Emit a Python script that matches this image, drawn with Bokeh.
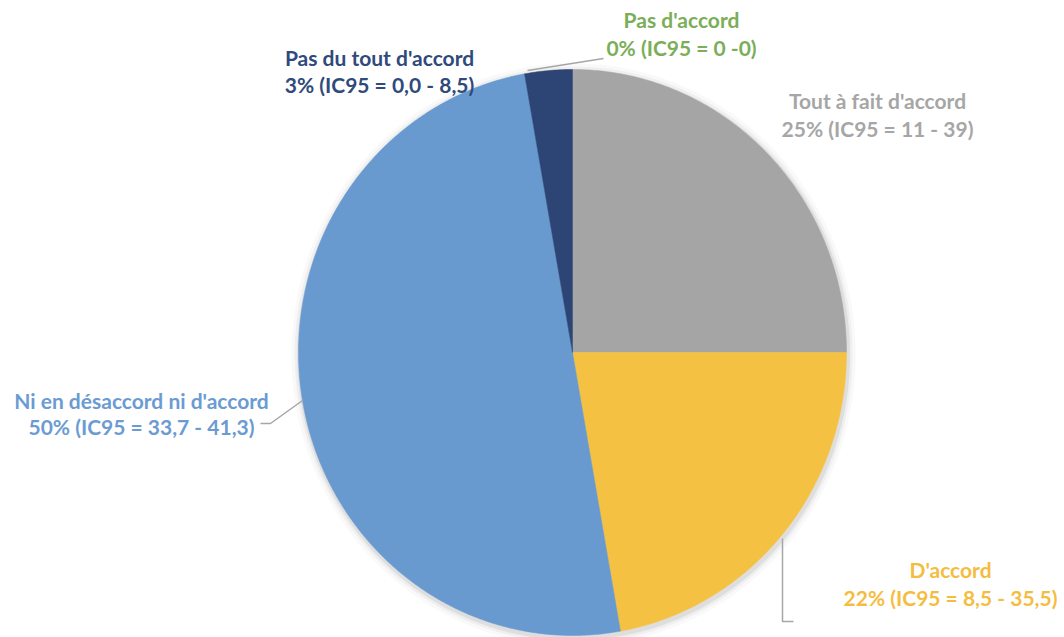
import numpy as np
from bokeh.plotting import figure
from bokeh.models import Range1d
from bokeh.core.properties import value
from bokeh.embed import file_html
from bokeh.resources import INLINE

# ---- data (clockwise from 12 o'clock) ----
categories = ["Tout à fait d'accord", "D'accord", "Ni en désaccord ni d'accord",
              "Pas du tout d'accord", "Pas d'accord"]
percents = [25.0, 22.2, 50.0, 2.8, 0.0]
ic95 = ["11 - 39", "8,5 - 35,5", "33,7 - 41,3", "0,0 - 8,5", "0 -0"]

slice_colors = ["#A5A5A5", "#F5C143", "#689AD0", "#2C4574", "#70AD47"]
text_colors = ["#A6A6A6", "#F5BD3F", "#6B9BD2", "#2F4A7B", "#7AAE58"]

W, H = 1064, 637
CX, CY, RX, RY = 572.0, 352.0, 274.0, 283.0   # page pixel geometry of the pie


def px(X, Y):
    """page pixel -> data units (pie = unit circle)"""
    return (X - CX) / RX, (CY - Y) / RY


x0, y0 = px(0, 0)
x1, y1 = px(W, H)

p = figure(width=W, height=H, output_backend="svg", toolbar_location=None,
           x_range=Range1d(x0, x1), y_range=Range1d(y1, y0),
           min_border=0, outline_line_color=None)
p.axis.visible = False
p.grid.visible = False
p.background_fill_color = "white"
p.border_fill_color = "white"

# soft shadow
t = np.linspace(0, 2 * np.pi, 361)
for k, a in [(1.03, 0.025), (1.018, 0.04), (1.009, 0.07)]:
    p.patch(np.sin(t) * k + 0.004, np.cos(t) * k - 0.008, fill_color="#000000",
            fill_alpha=a, line_color=None)

# slices
total = sum(percents)
start = 0.0
for pct, col in zip(percents, slice_colors):
    frac = pct / total
    if frac > 0:
        th = np.linspace(start, start + frac * 2 * np.pi, max(3, int(frac * 720)))
        xs = np.concatenate([[0.0], np.sin(th), [0.0]])
        ys = np.concatenate([[0.0], np.cos(th), [0.0]])
        p.patch(xs, ys, fill_color=col, line_color=col, line_width=0.5)
    start += frac * 2 * np.pi

# leader lines
leaders = [
    [(527, 70), (603, 58)],                      # Pas d'accord
    [(260, 423), (270, 423), (302, 400)],        # Ni en désaccord
    [(782, 538), (782, 621), (793, 621)],        # D'accord
]
for pts in leaders:
    xs, ys = zip(*[px(a, b) for a, b in pts])
    p.line(list(xs), list(ys), line_color="#A6A6A6", line_width=1.5)

# labels
label_pos = [
    (877, 100, 128),   # Tout à fait d'accord
    (950, 569, 597),   # D'accord
    (141, 400, 426),   # Ni en désaccord ni d'accord
    (379, 57, 84),     # Pas du tout d'accord
    (681, 19, 47),     # Pas d'accord
]
for cat, pct, ic, col, (X, Ya, Yb) in zip(categories, percents, ic95, text_colors, label_pos):
    l2 = f"{round(pct):d}% (IC95 = {ic})"
    for txt, Y in [(cat, Ya), (l2, Yb)]:
        xx, yy = px(X, Y)
        p.text([xx], [yy], text=[txt], text_align="center", text_baseline="middle",
               text_font=value("Lato"), text_font_style="bold",
               text_font_size="21px", text_color=col)

open("out.html", "w").write(file_html(p, INLINE))
